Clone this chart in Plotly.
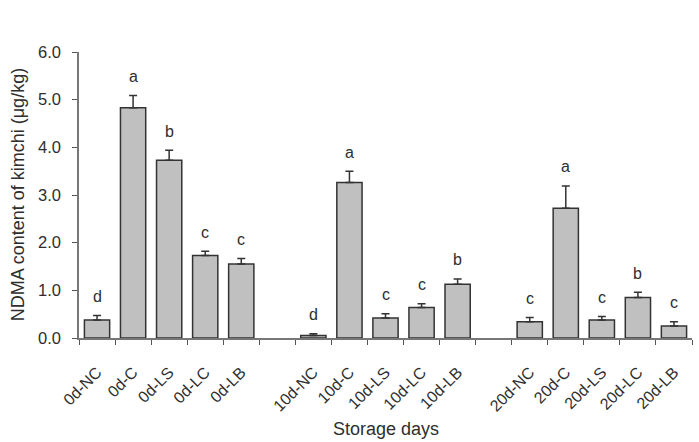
import plotly.graph_objects as go

categories = ["0d-NC", "0d-C", "0d-LS", "0d-LC", "0d-LB", " ",
              "10d-NC", "10d-C", "10d-LS", "10d-LC", "10d-LB", "  ",
              "20d-NC", "20d-C", "20d-LS", "20d-LC", "20d-LB"]
values = [0.38, 4.83, 3.73, 1.73, 1.55, None,
          0.05, 3.26, 0.42, 0.64, 1.13, None,
          0.34, 2.72, 0.38, 0.85, 0.25]
errors = [0.09, 0.26, 0.21, 0.09, 0.12, None,
          0.04, 0.24, 0.09, 0.08, 0.11, None,
          0.09, 0.47, 0.07, 0.11, 0.09]
letters = ["d", "a", "b", "c", "c", "",
           "d", "a", "c", "c", "b", "",
           "c", "a", "c", "b", "c"]
y_ticks = [0, 1, 2, 3, 4, 5, 6]
y_ticktext = ["0.0", "1.0", "2.0", "3.0", "4.0", "5.0", "6.0"]
x_title = "Storage days"
y_title = "NDMA content of kimchi (μg/kg)"

FONT = "Liberation Sans, Arial, sans-serif"
TXT = "#2e2e2e"

fig = go.Figure()
fig.add_trace(go.Bar(
    x=categories, y=values, width=0.7,
    marker=dict(color="#c0c0c0", line=dict(color="#333333", width=1.5)),
    error_y=dict(type="data", symmetric=False, array=errors,
                 arrayminus=[0 if e is not None else None for e in errors],
                 color="#333333", thickness=1.5, width=4),
    showlegend=False,
))

for c, v, e, l in zip(categories, values, errors, letters):
    if v is None or not l:
        continue
    fig.add_annotation(x=c, y=v + e, text=l, showarrow=False,
                       yanchor="middle", yshift=19,
                       font=dict(family=FONT, size=16, color=TXT))

fig.add_annotation(xref="paper", yref="paper", x=0.5, y=-0.318,
                   text=x_title, showarrow=False, xanchor="center", yanchor="middle",
                   font=dict(family=FONT, size=18, color=TXT))
fig.add_annotation(xref="paper", yref="paper", x=-0.099, y=0.5,
                   text=y_title, showarrow=False, textangle=-90,
                   xanchor="center", yanchor="middle",
                   font=dict(family=FONT, size=18, color=TXT))

fig.update_layout(
    width=699, height=442,
    margin=dict(l=79, r=7, t=52, b=104),
    plot_bgcolor="white", paper_bgcolor="white",
    font=dict(family=FONT, size=16, color=TXT),
)
fig.update_xaxes(
    type="category", categoryorder="array", categoryarray=categories,
    range=[-0.5, 16.5], automargin=False,
    tickson="boundaries", ticks="outside", ticklen=5, tickcolor="#555555",
    tickangle=-45, ticklabelstandoff=17,
    showline=True, linecolor="#777777", linewidth=1.5,
    showgrid=False,
    tickfont=dict(family=FONT, size=16, color=TXT),
)
fig.update_yaxes(
    range=[0, 6], tickvals=y_ticks, ticktext=y_ticktext, automargin=False,
    ticks="outside", ticklen=5, tickcolor="#555555", ticklabelstandoff=8,
    showline=True, linecolor="#777777", linewidth=1.5,
    showgrid=False, zeroline=False,
    tickfont=dict(family=FONT, size=16.5, color=TXT),
)

fig.write_html("out.html")
